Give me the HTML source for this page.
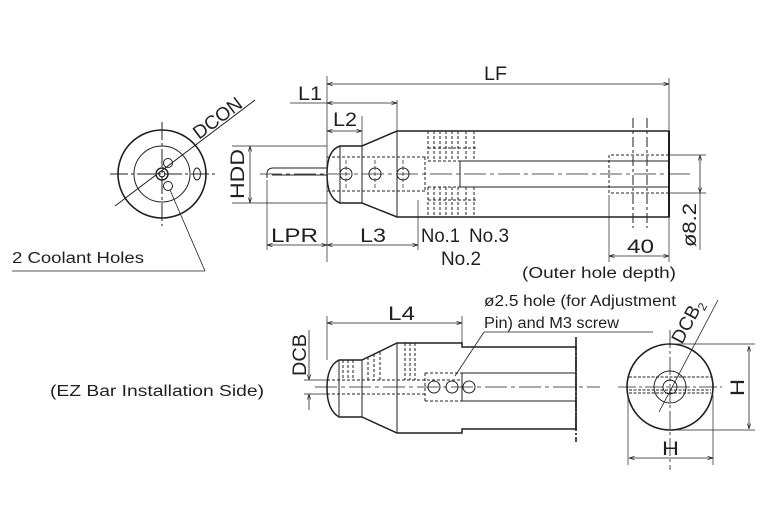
<!DOCTYPE html>
<html><head><meta charset="utf-8"><style>
html,body{margin:0;padding:0;background:#fff}
svg{display:block}
text{font-family:"Liberation Sans",sans-serif;fill:#231f20}
</style></head><body>
<svg width="767" height="523" viewBox="0 0 767 523" xmlns="http://www.w3.org/2000/svg">
<defs>
<marker id="a" viewBox="0 0 10 10" refX="10" refY="5" markerWidth="7" markerHeight="7" orient="auto-start-reverse"><path d="M0,2 L10,5 L0,8" fill="none" stroke="#231f20" stroke-width="1.2"/></marker>
</defs>
<g stroke="#231f20" fill="none" stroke-width="1">
<!-- LEFT END VIEW -->
<circle cx="162" cy="174" r="44" stroke-width="1.6"/>
<circle cx="162" cy="174" r="28"/>
<circle cx="162" cy="174" r="6" stroke-width="1.4"/>
<circle cx="162" cy="174" r="3"/>
<circle cx="168" cy="163" r="4.5"/>
<circle cx="168" cy="186" r="4.5"/>
<ellipse cx="197" cy="174" rx="3.5" ry="6"/>
<line x1="110" y1="174" x2="215" y2="174" stroke-dasharray="18,3,3,3"/>
<line x1="162" y1="122" x2="162" y2="226" stroke-dasharray="18,3,3,3"/>
<line x1="115" y1="206" x2="255" y2="100"/>
<line x1="12" y1="271" x2="205" y2="271" stroke-width="0.8"/>
<line x1="205" y1="271" x2="170" y2="190" stroke-width="0.8"/>

<!-- TOP MAIN VIEW -->
<path d="M327,168 L272,168 Q267,169 267,173 L267,178 M272,175 L327,175"/>
<line x1="260" y1="174" x2="690" y2="174" stroke-dasharray="22,4,4,4" stroke-width="0.8"/>
<path d="M340,146 L362,146 L397,131 L669,131 L669,217 L397,217 L362,203 L340,203 Q327,198 327,174 Q327,150 340,146 Z" stroke-width="1.5"/>
<line x1="340" y1="146" x2="340" y2="203"/>
<line x1="362" y1="146" x2="362" y2="203"/>
<line x1="397" y1="131" x2="397" y2="217"/>
<line x1="669" y1="131" x2="669" y2="217" stroke-width="2"/>
<path d="M327,157 L425,157 M327,191 L425,191" stroke-dasharray="3,2"/>
<path d="M425,157 L425,191" stroke-dasharray="3,2"/>
<line x1="460" y1="161" x2="669" y2="161"/>
<line x1="460" y1="187" x2="669" y2="187"/>
<line x1="460" y1="161" x2="460" y2="187"/>
<g stroke-dasharray="3,2">
<path d="M428,131 V161 M434,131 V161 M440,131 V161 M446,131 V161 M452,131 V161 M458,131 V161 M466,131 V161 M474,131 V161"/>
<path d="M428,187 V217 M434,187 V217 M440,187 V217 M446,187 V217 M452,187 V217 M458,187 V217 M466,187 V217 M474,187 V217"/>
<path d="M428,161 H476 M428,187 H476 M428,148 H476 M428,200 H476"/>
</g>
<circle cx="346" cy="174" r="6"/>
<circle cx="375" cy="174" r="6"/>
<circle cx="403" cy="174" r="6"/>
<path d="M346,160 V190 M375,160 V190 M403,160 V190" stroke-dasharray="4,2" stroke-width="0.7"/>
<path d="M669,155 L609,155 L609,193 L669,193" stroke-dasharray="3,2"/>
<path d="M633,118 V228 M647,118 V228" stroke-dasharray="10,3,3,3"/>
<line x1="327" y1="76" x2="327" y2="262" stroke-width="0.7"/>
<line x1="669" y1="78" x2="669" y2="262" stroke-width="0.7"/>
<line x1="327" y1="84" x2="669" y2="84" marker-start="url(#a)" marker-end="url(#a)" stroke-width="0.8"/>
<line x1="290" y1="103" x2="327" y2="103" stroke-width="0.8"/>
<line x1="327" y1="103" x2="397" y2="103" marker-start="url(#a)" marker-end="url(#a)" stroke-width="0.8"/>
<line x1="397" y1="100" x2="397" y2="131" stroke-width="0.7"/>
<line x1="327" y1="131" x2="362" y2="131" marker-start="url(#a)" marker-end="url(#a)" stroke-width="0.8"/>
<line x1="362" y1="116" x2="362" y2="146" stroke-width="0.7"/>
<line x1="232" y1="146" x2="327" y2="146" stroke-width="0.7"/>
<line x1="232" y1="203" x2="327" y2="203" stroke-width="0.7"/>
<line x1="250" y1="146" x2="250" y2="203" marker-start="url(#a)" marker-end="url(#a)" stroke-width="0.8"/>
<line x1="267" y1="180" x2="267" y2="250" stroke-width="0.7"/>
<line x1="267" y1="245" x2="327" y2="245" marker-start="url(#a)" marker-end="url(#a)" stroke-width="0.8"/>
<line x1="327" y1="245" x2="418" y2="245" marker-start="url(#a)" marker-end="url(#a)" stroke-width="0.8"/>
<line x1="418" y1="200" x2="418" y2="250" stroke-width="0.7"/>
<line x1="609" y1="195" x2="609" y2="262" stroke-width="0.7"/>
<line x1="609" y1="256" x2="669" y2="256" marker-start="url(#a)" marker-end="url(#a)" stroke-width="0.8"/>
<line x1="670" y1="155" x2="706" y2="155" stroke-width="0.7"/>
<line x1="670" y1="193" x2="706" y2="193" stroke-width="0.7"/>
<line x1="700" y1="155" x2="700" y2="193" marker-start="url(#a)" marker-end="url(#a)" stroke-width="0.8"/>
<line x1="700" y1="193" x2="700" y2="250" stroke-width="0.7"/>

<!-- BOTTOM VIEW -->
<line x1="315" y1="387" x2="600" y2="387" stroke-dasharray="22,4,4,4" stroke-width="0.8"/>
<path d="M339,360 L362,360 L397,343 L462,343 L462,347 L576,347 L576,429 L462,429 L462,433 L397,433 L362,417 L339,417 Q327,410 327,388 Q327,366 339,360 Z" stroke-width="1.5"/>
<line x1="576" y1="337" x2="576" y2="442" stroke-width="1.6" stroke-dasharray="14,2,2,2"/>
<line x1="339" y1="360" x2="339" y2="417"/>
<line x1="362" y1="360" x2="362" y2="417"/>
<line x1="397" y1="343" x2="397" y2="433"/>
<line x1="462" y1="373" x2="576" y2="373"/>
<line x1="462" y1="401" x2="576" y2="401"/>
<line x1="462" y1="373" x2="462" y2="401"/>
<g stroke-dasharray="3,2">
<path d="M343,360 V380 M348,360 V380 M353,360 V380 M368,357 V380 M374,354 V380 M380,352 V380 M405,343 V380 M410,343 V380 M415,343 V380"/>
<path d="M327,380 H462 M327,394 H425 M425,373 H462 M425,401 H462 M425,373 V401"/>
</g>
<circle cx="434" cy="387" r="6"/>
<circle cx="452" cy="387" r="6"/>
<circle cx="469" cy="387" r="6"/>
<line x1="327" y1="316" x2="327" y2="360" stroke-width="0.7"/>
<line x1="462" y1="316" x2="462" y2="343" stroke-width="0.7"/>
<line x1="327" y1="323" x2="462" y2="323" marker-start="url(#a)" marker-end="url(#a)" stroke-width="0.8"/>
<line x1="304" y1="380" x2="330" y2="380" stroke-width="0.7"/>
<line x1="304" y1="394" x2="330" y2="394" stroke-width="0.7"/>
<line x1="309" y1="330" x2="309" y2="380" marker-end="url(#a)" stroke-width="0.8"/>
<line x1="309" y1="410" x2="309" y2="394" marker-end="url(#a)" stroke-width="0.8"/>
<line x1="484" y1="332" x2="653" y2="332" stroke-width="0.8"/>
<line x1="484" y1="332" x2="455" y2="376" stroke-width="0.8"/>

<!-- right end view -->
<circle cx="670" cy="387" r="43" stroke-width="1.6"/>
<circle cx="670" cy="387" r="16"/>
<circle cx="670" cy="387" r="7"/>
<path d="M629,377 H711 M629,390 H711 M629,393 H711" stroke-dasharray="3,1.5"/>
<line x1="618" y1="387" x2="722" y2="387" stroke-dasharray="18,3,3,3" stroke-width="0.8"/>
<line x1="670" y1="330" x2="670" y2="470" stroke-dasharray="18,3,3,3" stroke-width="0.8"/>
<line x1="659" y1="412" x2="718" y2="300" stroke-width="0.8"/>
<line x1="670" y1="344" x2="755" y2="344" stroke-width="0.7"/>
<line x1="670" y1="430" x2="755" y2="430" stroke-width="0.7"/>
<line x1="749" y1="346" x2="749" y2="429" marker-start="url(#a)" marker-end="url(#a)" stroke-width="0.8"/>
<line x1="628" y1="395" x2="628" y2="465" stroke-width="0.7"/>
<line x1="713" y1="395" x2="713" y2="465" stroke-width="0.7"/>
<line x1="629" y1="458" x2="713" y2="458" marker-start="url(#a)" marker-end="url(#a)" stroke-width="0.8"/>
</g>

<g font-size="19">
<text x="484" y="80" textLength="23" lengthAdjust="spacingAndGlyphs">LF</text>
<text x="298" y="100" textLength="24" lengthAdjust="spacingAndGlyphs">L1</text>
<text x="333" y="126" textLength="24" lengthAdjust="spacingAndGlyphs">L2</text>
<text x="271" y="242" textLength="47" lengthAdjust="spacingAndGlyphs">LPR</text>
<text x="360" y="242" textLength="26" lengthAdjust="spacingAndGlyphs">L3</text>
<text x="421" y="242" textLength="39" lengthAdjust="spacingAndGlyphs">No.1</text>
<text x="469" y="242" textLength="40" lengthAdjust="spacingAndGlyphs">No.3</text>
<text x="441" y="265" textLength="40" lengthAdjust="spacingAndGlyphs">No.2</text>
<text x="627" y="253" textLength="27" lengthAdjust="spacingAndGlyphs">40</text>
<text x="388" y="320" textLength="27" lengthAdjust="spacingAndGlyphs">L4</text>
<text x="662" y="455" textLength="17" lengthAdjust="spacingAndGlyphs">H</text>
<text transform="translate(744,396) rotate(-90)" textLength="17" lengthAdjust="spacingAndGlyphs">H</text>
<text transform="translate(244,199) rotate(-90)" textLength="50" lengthAdjust="spacingAndGlyphs">HDD</text>
<text transform="translate(306,376) rotate(-90)" textLength="42" lengthAdjust="spacingAndGlyphs">DCB</text>
<text transform="translate(696,247) rotate(-90)" textLength="44" lengthAdjust="spacingAndGlyphs">ø8.2</text>
<text transform="translate(199,140) rotate(-37)" textLength="56" lengthAdjust="spacingAndGlyphs">DCON</text>
<text transform="translate(682,345) rotate(-62)">DCB<tspan font-size="12" dy="4">2</tspan></text>
</g>
<g font-size="15.5">
<text x="12" y="263" textLength="132" lengthAdjust="spacingAndGlyphs">2 Coolant Holes</text>
<text x="522" y="278" textLength="154" lengthAdjust="spacingAndGlyphs">(Outer hole depth)</text>
<text x="484" y="306" textLength="192" lengthAdjust="spacingAndGlyphs">ø2.5 hole (for Adjustment</text>
<text x="484" y="328" textLength="135" lengthAdjust="spacingAndGlyphs">Pin) and M3 screw</text>
<text x="50" y="396" textLength="214" lengthAdjust="spacingAndGlyphs">(EZ Bar Installation Side)</text>
</g>
</svg>
</body></html>
